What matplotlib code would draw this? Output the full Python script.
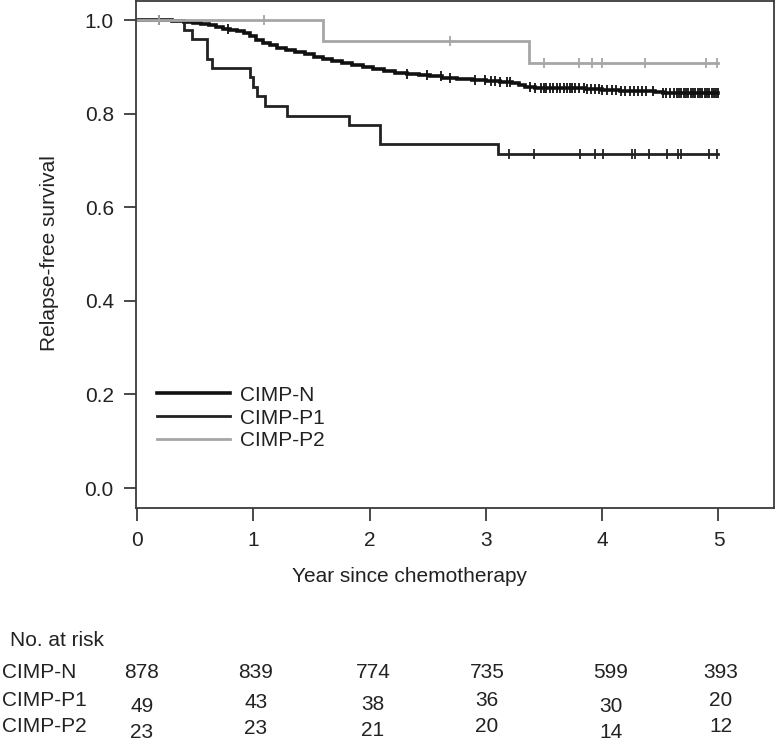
import numpy as np
import matplotlib
matplotlib.use("Agg")
import matplotlib.pyplot as plt

plt.rcParams['font.family'] = ['Liberation Sans', 'DejaVu Sans']

# ---------------- data ----------------
groups = ["CIMP-N", "CIMP-P1", "CIMP-P2"]

n_time = [0, 0.30, 0.40, 0.48, 0.55, 0.62, 0.68, 0.74, 0.80, 0.86, 0.92, 0.97, 1.02, 1.08,
          1.14, 1.20, 1.28, 1.36, 1.44, 1.52, 1.60, 1.68, 1.76, 1.85, 1.94, 2.03, 2.12, 2.22,
          2.32, 2.42, 2.52, 2.62, 2.75, 2.88, 3.00, 3.12, 3.22, 3.28, 3.34, 3.42, 3.55, 3.70,
          3.85, 4.00, 4.15, 4.30, 4.45, 4.52, 4.60, 4.80, 5.00]
n_surv = [1.0, 0.998, 0.996, 0.994, 0.992, 0.989, 0.985, 0.982, 0.979, 0.976, 0.972, 0.966,
          0.958, 0.952, 0.946, 0.941, 0.936, 0.931, 0.927, 0.922, 0.917, 0.913, 0.909, 0.904,
          0.899, 0.895, 0.891, 0.888, 0.885, 0.882, 0.880, 0.877, 0.875, 0.872, 0.870, 0.868,
          0.866, 0.862, 0.858, 0.856, 0.855, 0.854, 0.852, 0.850, 0.849, 0.848, 0.846, 0.845,
          0.844, 0.844, 0.844]
n_cens = [0.19, 0.78, 2.32, 2.49, 2.61, 2.69, 2.91, 2.99, 3.04, 3.08, 3.12, 3.18, 3.21, 3.38,
          3.42, 3.47, 3.50, 3.52, 3.55, 3.58, 3.61, 3.64, 3.67, 3.70, 3.72, 3.74, 3.77, 3.80,
          3.84, 3.87, 3.90, 3.94, 3.97, 4.00, 4.04, 4.08, 4.12, 4.16, 4.20, 4.24, 4.27, 4.31,
          4.34, 4.38, 4.44, 4.52, 4.55, 4.58, 4.62, 4.64, 4.66, 4.68, 4.70, 4.72, 4.74, 4.76,
          4.78, 4.80, 4.82, 4.84, 4.86, 4.88, 4.90, 4.92, 4.94, 4.96, 4.98, 5.00]

p1_time = [0, 0.40, 0.47, 0.60, 0.645, 0.97, 1.00, 1.03, 1.10, 1.29, 1.82, 2.09, 3.10, 5.0]
p1_surv = [1.0, 0.980, 0.959, 0.918, 0.898, 0.878, 0.857, 0.837, 0.816, 0.796, 0.776, 0.735,
           0.714, 0.714]
p1_cens = [3.20, 3.41, 3.81, 3.94, 4.01, 4.26, 4.28, 4.40, 4.56, 4.65, 4.68, 4.92, 4.99]

p2_time = [0, 1.60, 3.37, 5.0]
p2_surv = [1.0, 0.9565, 0.9087, 0.9087]
p2_cens = [0.19, 1.09, 2.69, 3.50, 3.80, 3.91, 4.00, 4.37, 4.89, 4.99]

risk_rows = ["CIMP-N", "CIMP-P1", "CIMP-P2"]
risk_n = [878, 839, 774, 735, 599, 393]
risk_p1 = [49, 43, 38, 36, 30, 20]
risk_p2 = [23, 23, 21, 20, 14, 12]

xticks = [0, 1, 2, 3, 4, 5]
yticks = [0.0, 0.2, 0.4, 0.6, 0.8, 1.0]

# ---------------- figure ----------------
W, H = 777, 750
FS = 15
TXT = "#222222"
fig = plt.figure(figsize=(W / 100, H / 100), dpi=100)
ax = fig.add_axes([136 / W, 1 - 507.7 / H, (774.3 - 136) / W, (507.7 - 0.5) / H])

styles = {
    "CIMP-N": dict(color="#111111", lw=2.6),
    "CIMP-P1": dict(color="#222222", lw=2.0),
    "CIMP-P2": dict(color="#a6a6a6", lw=2.0),
}

def step_val(t, times, surv):
    idx = np.searchsorted(times, t, side="right") - 1
    return np.asarray(surv)[idx]

series = [("CIMP-N", n_time, n_surv, n_cens),
          ("CIMP-P1", p1_time, p1_surv, p1_cens),
          ("CIMP-P2", p2_time, p2_surv, p2_cens)]

for name, t, s, c in series:
    st = styles[name]
    ax.plot(t, s, drawstyle="steps-post", color=st["color"], lw=st["lw"], label=name,
            solid_joinstyle="miter")
    cy = step_val(np.asarray(c), np.asarray(t), s)
    ax.plot(c, cy, ls="none", marker="|", ms=7, mew=1.3, color=st["color"])

ax.set_xlim(-0.01, 5.48)
ax.set_ylim(-0.042, 1.042)
ax.set_xticks(xticks)
ax.set_xticklabels([str(v) for v in xticks])
ax.set_yticks(yticks)
ax.set_yticklabels([f"{v:.1f}" for v in yticks])

for sp in ax.spines.values():
    sp.set_linewidth(1.3)
    sp.set_color("#3a3a3a")
ax.tick_params(axis="both", direction="out", length=9, width=1.3, color="#3a3a3a",
               labelsize=FS, labelcolor=TXT)
ax.tick_params(axis="x", pad=8)
ax.tick_params(axis="y", pad=7)

fig.text(410 / W, 1 - 577 / H, "Year since chemotherapy", ha="center", va="center",
         fontsize=FS, color=TXT)
fig.text(50 / W, 1 - 253 / H, "Relapse-free survival", ha="center", va="center",
         rotation=90, fontsize=FS, color=TXT)

leg = ax.legend(loc="center left", bbox_to_anchor=(157 / W, 1 - 418 / H),
                bbox_transform=fig.transFigure, frameon=False, fontsize=FS,
                handlelength=3.5, handletextpad=0.5, labelspacing=0.18,
                borderpad=0, borderaxespad=0)
for txt in leg.get_texts():
    txt.set_color(TXT)

# ---------------- risk table ----------------
col_x = [142, 256, 373, 487, 611, 721]
col_dy = [6, 1, 4, 0, 6, 0]
row_y = [672, 701, 727]
fig.text(10 / W, 1 - 641 / H, "No. at risk", ha="left", va="center", fontsize=FS, color=TXT)
for r, (name, vals, yy) in enumerate(zip(risk_rows, [risk_n, risk_p1, risk_p2], row_y)):
    fig.text(2 / W, 1 - yy / H, name, ha="left", va="center", fontsize=FS, color=TXT)
    for xx, dy, v in zip(col_x, col_dy, vals):
        off = dy if r > 0 else 0
        fig.text(xx / W, 1 - (yy + off) / H, str(v), ha="center", va="center", fontsize=FS,
                 color=TXT)

fig.savefig("out.png", dpi=100)
